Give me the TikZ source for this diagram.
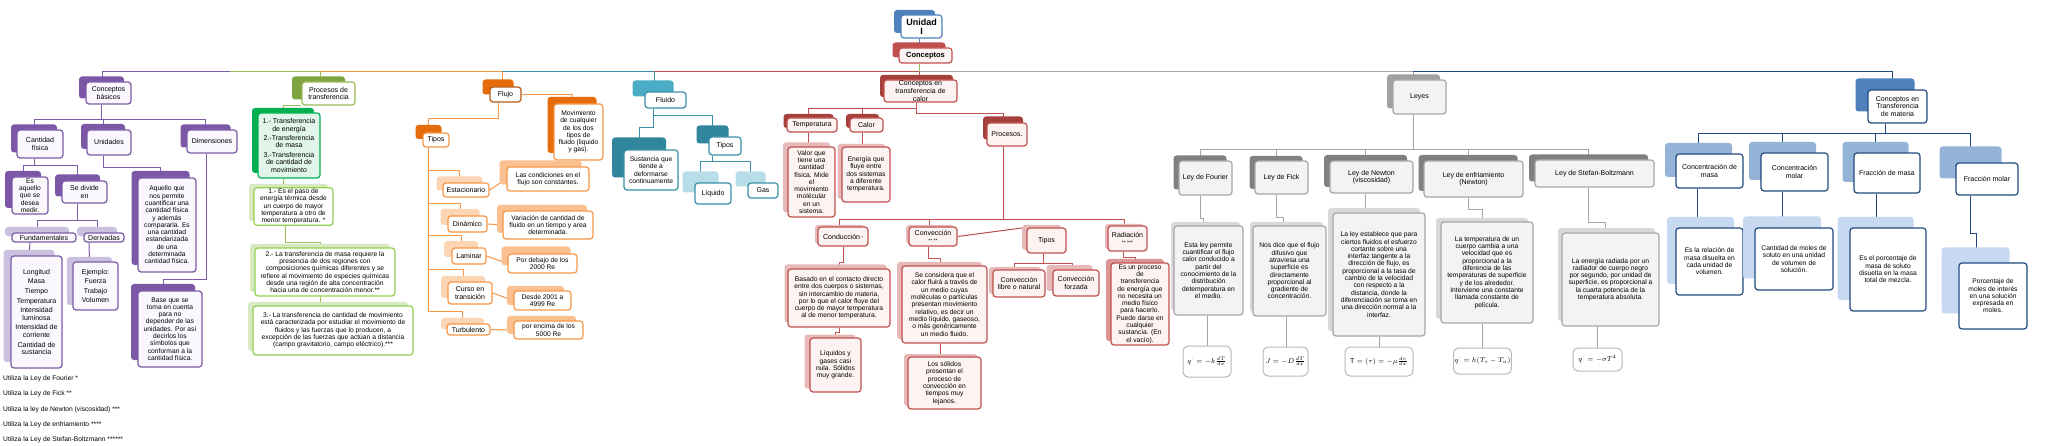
\documentclass[tikz,border=0pt]{standalone}
\usepackage{fontspec}
\setmainfont{Liberation Sans}
\usetikzlibrary{shadows, backgrounds, calc}

\definecolor{uB}{HTML}{4F81BD}
\definecolor{rB}{HTML}{C0504D}
\definecolor{rM}{HTML}{C0504D}
\definecolor{rD}{HTML}{A5403D}
\definecolor{rP}{HTML}{E6B9B8}
\definecolor{rQ}{HTML}{D99694}
\definecolor{rF}{HTML}{FDF3F3}
\definecolor{pB}{HTML}{7D5BA6}
\definecolor{pD}{HTML}{7B58A5}
\definecolor{pL}{HTML}{CBC0DD}
\definecolor{pF}{HTML}{FAF8FC}
\definecolor{gB}{HTML}{9BBB59}
\definecolor{gD}{HTML}{7FA33F}
\definecolor{gG}{HTML}{00B050}
\definecolor{gM}{HTML}{E2F5EA}
\definecolor{gL}{HTML}{92D050}
\definecolor{gK}{HTML}{D7E8C3}
\definecolor{oB}{HTML}{F79646}
\definecolor{oK}{HTML}{B35A17}
\definecolor{oD}{HTML}{E46C0A}
\definecolor{oL}{HTML}{FCD5B5}
\definecolor{oP}{HTML}{FAC090}
\definecolor{cB}{HTML}{3A8FA8}
\definecolor{cM}{HTML}{4BACC6}
\definecolor{cD}{HTML}{31859C}
\definecolor{cL}{HTML}{B7DEE8}
\definecolor{kB}{HTML}{A6A6A6}
\definecolor{kM}{HTML}{A0A0A0}
\definecolor{kD}{HTML}{808080}
\definecolor{kL}{HTML}{D9D9D9}
\definecolor{kF}{HTML}{F3F3F3}
\definecolor{nB}{HTML}{1F497D}
\definecolor{nM}{HTML}{4F81BD}
\definecolor{nL}{HTML}{95B3D7}
\definecolor{nP}{HTML}{C6D9F1}

\newcommand{\headfont}{\fontsize{7}{7.6}\selectfont}
\newcommand{\descfont}{\fontsize{6.7}{7.3}\selectfont}

\begin{document}
\begin{tikzpicture}[
    x=1pt, y=-1pt,
    box/.style={draw, rounded corners=3pt, line width=1.2pt, align=center, inner sep=1pt, font=\headfont},
    cb/.style n args={4}{box, draw=#1, general shadow={fill=#2, shadow xshift=-#3pt, shadow yshift=#4pt}},
    wh/.style 2 args={minimum width=#1pt, minimum height=#2pt},
    dsc/.style={font=\descfont},
    pur/.style 2 args={cb={pB}{pD}{#1}{#2}, fill=pF},
    purl/.style 2 args={cb={pB}{pL}{#1}{#2}, fill=pF},
    grn/.style 2 args={cb={gL}{gK}{#1}{#2}, fill=white, dsc},
    org/.style 2 args={cb={oB}{oL}{#1}{#2}, fill=white},
    orgd/.style 2 args={cb={oB}{oP}{#1}{#2}, fill=white, dsc},
    red/.style 2 args={cb={rB}{rD}{#1}{#2}, fill=rF},
    redp/.style 2 args={cb={rB}{rP}{#1}{#2}, fill=rF},
    gry/.style 2 args={cb={kB}{kD}{#1}{#2}, fill=kF},
    gryd/.style 2 args={cb={kB}{kL}{#1}{#2}, fill=kF, dsc},
    nav/.style 2 args={cb={nB}{nL}{#1}{#2}, fill=white},
    navd/.style 2 args={cb={nB}{nP}{#1}{#2}, fill=white, dsc},
    formbox/.style={box, draw=kB!80, fill=white, rounded corners=5pt, line width=1pt, font=\fontsize{7}{8}\selectfont},
    foot/.style={anchor=west, inner sep=0pt, font=\descfont},
    con/.style={line width=1pt},
    pcon/.style={con, draw=pB}, gcon/.style={con, draw=gB}, ocon/.style={con, draw=oB},
    ccon/.style={con, draw=cB}, rcon/.style={con, draw=rB}, kcon/.style={con, draw=kB},
    ncon/.style={con, draw=nB}, bcon/.style={con, draw=uB},
]
\useasboundingbox (0,0) rectangle (2048,446);

% top
\node[cb={uB}{uB}{7}{5}, fill=white, wh={41}{23}, font=\bfseries\fontsize{9}{9.5}\selectfont] (unidad) at (921.5,26.5) {Unidad\\I};
\node[cb={rB}{rM}{6.5}{5.5}, fill=rF, wh={53}{15}, font=\bfseries\fontsize{7.5}{8}\selectfont] (conceptos) at (925.5,55.5) {Conceptos};

% first level
\node[pur={7}{5.5}, wh={45}{22}] (basicos) at (108.5,93) {Conceptos\\básicos};
\node[cb={gB}{gD}{10}{5.5}, fill=white, wh={53}{23}] (procesos) at (328.5,93.5) {Procesos de\\transferencia};
\node[cb={oK}{oD}{7.5}{7.5}, fill=white, wh={31}{15}] (flujo) at (505.5,94.5) {Flujo};
\node[cb={cB}{cM}{12.5}{11.5}, fill=white, wh={41}{16}] (fluido) at (665.5,100) {Fluido};
\node[red={4}{5}, wh={73}{22}] (calorc) at (920.5,91) {Conceptos en\\transferencia de\\calor};
\node[cb={kB}{kM}{6}{5.5}, fill=kF, wh={53}{34}] (leyes) at (1419.5,97) {Leyes};
\node[cb={nB}{nM}{12.5}{11.5}, fill=white, wh={59}{33}] (materia) at (1897.5,106.5) {Conceptos en\\Transferencia\\de materia};

% conceptos basicos
\node[pur={6}{5.5}, wh={46}{28}] (cantidad) at (40,144) {Cantidad\\física};
\node[pur={6}{6}, wh={44}{25}] (unidades) at (109,142.5) {Unidades};
\node[pur={6.5}{5.5}, wh={50}{23}] (dimensiones) at (212,141.5) {Dimensiones};
\node[pur={7}{6}, wh={36}{37}, dsc] (esaquello) at (30,195.5) {Es\\aquello\\que se\\desea\\medir.};
\node[pur={7}{6.5}, wh={45}{22}] (sedivide) at (84.5,192) {Se divide\\en};
\node[purl={7}{6}, wh={64}{9}] (fundamentales) at (44,237.5) {Fundamentales};
\node[purl={7}{6}, wh={40}{9}] (derivadas) at (104,237.5) {Derivadas};
\node[purl={7.5}{6}, wh={51}{112}] (longitud) at (36.5,312) {Longitud\\[2pt]Masa\\[2pt]Tiempo\\[2pt]Temperatura\\[2pt]Intensidad\\luminosa\\[2pt]Intensidad de\\corriente\\[2pt]Cantidad de\\sustancia};
\node[purl={6}{5}, wh={45}{48}] (ejemplo) at (95.5,286) {Ejemplo:\\[2pt]Fuerza\\[2pt]Trabajo\\[2pt]Volumen};
\node[pur={6.5}{7}, wh={58}{94}, dsc] (aquello) at (167,225) {Aquello que\\nos permite\\cuantificar una\\cantidad física\\y además\\compararla. Es\\una cantidad\\estandarizada\\de una\\determinada\\cantidad física.};
\node[pur={7}{7}, wh={64}{76}, dsc] (base) at (170,329) {Base que se\\toma en cuenta\\para no\\depender de las\\unidades. Por así\\decirlos los\\símbolos que\\conforman a la\\cantidad física.};

% notes
\node[foot] (nota1) at (3,379) {Utiliza la Ley de Fourier *};
\node[foot] (nota2) at (3,394) {Utiliza la Ley de Fick **};
\node[foot] (nota3) at (3,410) {Utiliza la ley de Newton (viscosidad) ***};
\node[foot] (nota4) at (3,425) {Utiliza la Ley de enfriamiento ****};
\node[foot] (nota5) at (3,440) {Utiliza la Ley de Stefan-Boltzmann ******};

% procesos de transferencia
\node[cb={gG}{gG}{6}{5}, fill=gM, wh={62}{65}] (trans) at (289,145.5) {1.- Transferencia\\de energía\\[1.5pt]2.-Transferencia\\de masa\\[1.5pt]3.-Transferencia\\de cantidad de\\movimiento};
\node[grn={5}{4}, wh={79}{37}] (g1) at (293.5,206.5) {1.- Es el paso de\\energía térmica desde\\un cuerpo de mayor\\temperatura a otro de\\menor temperatura. *};
\node[grn={5}{4}, wh={140}{48}] (g2) at (325,272) {2.- La transferencia de masa requiere la\\presencia de dos regiones con\\composiciones químicas diferentes y se\\refiere al movimiento de especies químicas\\desde una región de alta concentración\\hacia una de concentración menor.**};
\node[grn={5}{4}, wh={160}{49}] (g3) at (333,330.5) {3.- La transferencia de cantidad de movimiento\\está caracterizada por estudiar el movimiento de\\fluidos y las fuerzas que lo producen, a\\excepción de las fuerzas que actúan a distancia\\(campo gravitatorio, campo eléctrico).***};

% flujo
\node[cb={oB}{oD}{6.5}{7}, fill=white, wh={49}{56}, dsc] (movim) at (578.5,132) {Movimiento\\de cualquier\\de los dos\\tipos de\\fluido (liquido\\y gas).};
\node[cb={oB}{oD}{7.5}{8}, fill=white, wh={26}{14}] (tiposO) at (436,140) {Tipos};
\node[org={6.5}{6.5}, wh={46}{14}] (estac) at (466,190) {Estacionario};
\node[org={7.5}{7}, wh={39}{16}] (dinam) at (467.5,224) {Dinámico};
\node[org={8}{7}, wh={34}{16}] (lamin) at (469,256) {Laminar};
\node[org={7}{6}, wh={44}{22}] (curso) at (470,293) {Curso en\\transición};
\node[org={6}{6}, wh={43}{11}] (turbu) at (468.5,329.5) {Turbulento};
\node[orgd={7.5}{6.5}, wh={82}{24}] (destac) at (548,179) {Las condiciones en el\\flujo son constantes.};
\node[orgd={6}{6}, wh={90}{28}] (ddinam) at (548,225) {Variación de cantidad de\\fluido en un tiempo y area\\determinada.};
\node[orgd={6.5}{7.5}, wh={69}{19}] (dlamin) at (542.5,263.5) {Por debajo de los\\2000 Re};
\node[orgd={7}{5}, wh={57}{19}] (dcurso) at (542.5,300.5) {Desde 2001 a\\4999 Re};
\node[orgd={7}{5}, wh={69}{18}] (dturbu) at (548.5,330) {por encima de los\\5000 Re};

% fluido
\node[cb={cB}{cD}{12}{12.5}, fill=white, wh={54}{40}, dsc] (sustancia) at (651,170) {Sustancia que\\tiende a\\deformarse\\continuamente};
\node[cb={cB}{cD}{12.5}{11.5}, fill=white, wh={32}{18}] (tiposC) at (725,146) {Tipos};
\node[cb={cB}{cL}{12.5}{11.5}, fill=white, wh={36}{21}] (liquido) at (713,193.5) {Líquido};
\node[cb={cB}{cL}{12.5}{11.5}, fill=white, wh={30}{15}] (gas) at (763,190.5) {Gas};

% conceptos en transferencia de calor
\node[red={3.5}{4}, wh={50}{14}] (temp) at (812,125) {Temperatura};
\node[red={4}{4}, wh={33}{14}] (calor) at (866.5,125) {Calor};
\node[red={4}{6.5}, wh={40}{23}] (procs) at (1007,134.5) {Procesos.};
\node[redp={5}{4.5}, wh={47}{70}, dsc] (valor) at (811.5,182) {Valor que\\tiene una\\cantidad\\física. Mide\\el\\movimiento\\molécular\\en un\\sistema.};
\node[redp={4.5}{3}, wh={48}{55}, dsc] (energia) at (866,174.5) {Energía que\\fluye entre\\dos sistemas\\a diferente\\temperatura.};
\node[redp={3}{2}, wh={50}{19}] (conduc) at (843,236.5) {Conducción\,{\fontsize{4}{4}\selectfont *}};
\node[redp={3}{2}, wh={48}{19}] (convec) at (933,236.5) {Convección\\{\fontsize{5}{5}\selectfont ** **}};
\node[redp={5}{3}, wh={39}{25}] (tiposR) at (1046.5,240.5) {Tipos};
\node[redp={3}{2}, wh={39}{25}] (radia) at (1127.5,238.5) {Radiación\\{\fontsize{5}{5}\selectfont ** ***}};
\node[redp={3.5}{4.5}, wh={102}{58}, dsc] (dconduc) at (839,298) {Basado en el contacto directo\\entre dos cuerpos o sistemas,\\sin intercambio de materia,\\por lo que el calor fluye del\\cuerpo de mayor temperatura\\al de menor temperatura.};
\node[redp={5.5}{3.5}, wh={51}{54}, dsc] (liquidos) at (835.5,365) {Líquidos  y\\gases casi\\nula. Sólidos\\muy grande.};
\node[redp={5}{4}, wh={85}{77}, dsc] (dconvec) at (944.5,304.5) {Se considera que el\\calor fluirá a través de\\un medio cuyas\\moléculas o partículas\\presentan movimiento\\relativo, es decir un\\medio líquido,  gaseoso,\\o más  genéricamente\\un medio fluido.};
\node[redp={4}{3}, wh={73}{52}, dsc] (solidos) at (944.5,383) {Los sólidos\\presentan el\\proceso de\\convección en\\tiempos muy\\lejanos.};
\node[redp={4}{3}, wh={52}{27}] (libre) at (1019,283.5) {Convección\\libre o natural};
\node[redp={6.5}{5}, wh={46}{26}] (forzada) at (1076,283) {Convección\\forzada};
\node[cb={rB}{rQ}{5}{4}, fill=rF, wh={58}{82}, dsc] (dradia) at (1140,304) {Es un proceso\\de\\transferencia\\de energía que\\no necesita un\\medio físico\\para hacerlo.\\Puede darse en\\cualquier\\sustancia. (En\\el vacío).};

% leyes
\node[gry={5.5}{5.5}, wh={53}{34}] (fourier) at (1205.5,178) {Ley de Fourier};
\node[gry={5.5}{5}, wh={53}{33}] (fick) at (1281.5,177.5) {Ley de Fick};
\node[gry={6}{6}, wh={83}{32}] (newton) at (1371.5,177) {Ley de Newton\\(viscosidad)};
\node[gry={5.5}{6}, wh={99}{36}] (enfri) at (1473.5,179) {Ley de enfriamiento\\(Newton)};
\node[gry={6}{5.5}, wh={119}{27}] (stefan) at (1594.5,173.5) {Ley de Stefan-Boltzmann};
\node[gryd={3}{4}, wh={69}{89}] (dfourier) at (1208.5,270.5) {Esta ley permite\\cuantificar el flujo\\calor conducido a\\partir del\\conocimiento de la\\distribución\\detemperatura en\\el medio.};
\node[gryd={3}{4}, wh={73}{90}] (dfick) at (1289.5,271) {Nos dice que el flujo\\difusivo que\\atraviesa una\\superficie es\\directamente\\proporcional al\\gradiente de\\concentración.};
\node[gryd={5}{5}, wh={92}{123}] (dnewton) at (1379,274.5) {La ley establece que para\\ciertos fluidos el esfuerzo\\cortante sobre una\\interfaz tangente a la\\dirección de flujo, es\\proporcional a la tasa de\\cambio de la velocidad\\con respecto a la\\distancia, donde la\\diferenciación se toma en\\una dirección normal a la\\interfaz.};
\node[gryd={5}{4}, wh={92}{101}] (denfri) at (1487,272.5) {La temperatura de un\\cuerpo cambia a una\\velocidad que es\\proporcional a la\\diferencia de las\\temperaturas de superficie\\y de los alrededor.\\Interviene una constante\\llamada constante de\\película.};
\node[gryd={4}{5}, wh={97}{93}] (dstefan) at (1610.5,279.5) {La energía radiada por un\\radiador de cuerpo negro\\por segundo, por unidad de\\superficie, es proporcional a\\la cuarta potencia de la\\temperatura absoluta.};
\node[formbox, wh={48}{31}] (ffourier) at (1207,361.5) {$q^{\cdot} = -k\frac{dT}{dx}$};
\node[formbox, wh={45}{29}] (ffick) at (1285.5,361.5) {$J = -D\frac{dT}{dx}$};
\node[formbox, wh={68}{29}] (fnewton) at (1379,361.5) {$\mathrm{T} = (\tau) = -\mu\frac{dv}{dx}$};
\node[formbox, wh={53}{26}] (fenfri) at (1482.5,361) {$q^{\cdot} = h(T_s - T_a)$};
\node[formbox, wh={49}{23}] (fstefan) at (1597.5,359.5) {$q^{\cdot} = -\sigma T^4$};

% transferencia de materia
\node[nav={11}{11}, wh={67}{34}] (cmasa) at (1709.5,171) {Concentración de\\masa};
\node[nav={12}{11}, wh={67}{38}] (cmolar) at (1794.5,172) {Concentración\\molar};
\node[nav={11.5}{11}, wh={66}{40}] (fmasa) at (1887,173) {Fracción de masa};
\node[nav={16.5}{16.5}, wh={62}{32}] (fmolar) at (1987,179) {Fracción molar};
\node[navd={9}{11}, wh={67}{67}] (dcmasa) at (1709.5,261.5) {Es la relación de\\masa disuelta  en\\cada unidad de\\volumen.};
\node[navd={12}{11.5}, wh={78}{62}] (dcmolar) at (1794,259) {Cantidad de moles de\\soluto en una unidad\\de volumen de\\solución.};
\node[navd={12.5}{11}, wh={76}{83}] (dfmasa) at (1888,269.5) {Es el porcentaje de\\masa de soluto\\disuelta en la masa\\total de mezcla.};
\node[navd={17.5}{15.5}, wh={68}{66}] (dfmolar) at (1993,296) {Porcentaje de\\moles de interés\\en una solución\\expresada en\\moles.};

\begin{scope}[on background layer]
\fill[white] (0,0) rectangle (2048,446);
% main bar
\coordinate (b0) at (919,72);
\coordinate (b1) at (102,72);
\coordinate (b1g) at (230,72);
\coordinate (b2) at (320,72);
\coordinate (b3) at (502,72);
\coordinate (b4) at (654,72);
\coordinate (b5) at (1413,72);
\coordinate (b6) at (1892,72);
\draw[bcon] ([xshift=-2pt]unidad.south) -- ([xshift=-2pt]unidad.south |- conceptos.north);
\draw[gcon] ([xshift=-6.5pt]conceptos.south) -- (b0);
\draw[pcon] (b1 |- basicos.north) -- (b1) -- (b1g);
\draw[gcon] (b1g) -- (b2) -- (b2 |- procesos.north);
\draw[ocon] (b2) -- (b3) -- (b3 |- flujo.north);
\draw[ccon] (b3) -- (b4) -- (b4 |- fluido.north);
\draw[rcon] (b4) -- (b0) -- (b0 |- calorc.north);
\draw[kcon] (b0) -- (b5) -- (b5 |- leyes.north);
\draw[ncon] (b5) -- (b6) -- (b6 |- materia.north);

% conceptos basicos
\foreach \n/\s in {cantidad/6pt, unidades/6pt, dimensiones/6.5pt}
  \draw[pcon] ([xshift=-7pt]basicos.south) -- ++(0,15) -| ([xshift=-\s]\n.north);
\foreach \n in {esaquello, sedivide}
  \draw[pcon] ([xshift=-6pt]cantidad.south) -- ++(0,7) -| ([xshift=-7pt]\n.north);
\foreach \n in {fundamentales, derivadas}
  \draw[pcon] ([xshift=-7pt]sedivide.south) -- ++(0,17) -| ([xshift=-7pt]\n.north);
\draw[pcon] ([xshift=-14pt]fundamentales.south) -- ([xshift=-7.5pt]longitud.north);
\draw[pcon] ([xshift=-15pt]derivadas.south) -- ([xshift=-6pt]ejemplo.north);
\draw[pcon] ([xshift=-6pt]unidades.south) -- ++(0,12) -| ([xshift=-6.5pt]aquello.north);
\draw[pcon] ([xshift=-6pt]dimensiones.south) -- ++(0,126) -| ([xshift=-7pt]base.north);

% procesos de transferencia
\draw[gcon] (procesos.south west) -| ([xshift=-6pt]trans.north);
\draw[gcon] ([xshift=-6pt]trans.south) -- ([xshift=-6pt]trans.south |- g1.north);
\draw[gcon] ([xshift=-8pt]g1.south) -- ++(0,17) -| ([xshift=-5pt]g2.north);
\draw[gcon] ([xshift=-5pt]g2.south) -- ([xshift=-5pt]g2.south |- g3.north);

% flujo
\draw[ocon] (flujo.east) -| ([xshift=-6.5pt]movim.north);
\draw[ocon] ([xshift=-7.5pt]flujo.south) -- ++(0,16) -| ([xshift=-7.5pt]tiposO.north);
\foreach \n/\d/\s in {estac/23/6.5pt, dinam/56/7.5pt, lamin/88/8pt, curso/122/7pt, turbu/164/6pt}
  \draw[ocon] ([xshift=-7.5pt]tiposO.south) -- ++(0,\d) -| ([xshift=-\s]\n.north);
\foreach \a/\b in {estac/destac, dinam/ddinam, lamin/dlamin, curso/dcurso, turbu/dturbu}
  \draw[ocon] (\a.east) -- (\b.west);

% fluido
\draw[ccon] ([xshift=-12.5pt]fluido.south) -- ++(0,19) -| ([xshift=-12pt]sustancia.north);
\draw[ccon] ([xshift=-12.5pt]fluido.south) -- ++(0,7) -| ([xshift=-12.5pt]tiposC.north);
\foreach \n in {liquido, gas}
  \draw[ccon] ([xshift=-12.5pt]tiposC.south) -- ++(0,6) -| ([xshift=-12.5pt]\n.north);

% calor
\foreach \n/\d in {temp/6, calor/6, procs/11}
  \draw[rcon] ([xshift=-4pt]calorc.south) -- ++(0,\d) -| ([xshift=-4pt]\n.north);
\draw[rcon] ([xshift=-4pt]temp.south) -- ([xshift=-4pt]temp.south |- valor.north);
\draw[rcon] ([xshift=-4pt]calor.south) -- ([xshift=-4pt]calor.south |- energia.north);
\foreach \n/\s in {conduc/4pt, convec/4pt, radia/3pt}
  \draw[rcon] ([xshift=-4pt]procs.south) -- ++(0,73) -| ([xshift=-\s]\n.north);
\draw[rcon] (convec.east) -- (tiposR.north west);
\draw[rcon] ([xshift=-3pt]tiposR.south) -- ++(0,10) -| ([xshift=-5pt]libre.north);
\draw[rcon] ([xshift=-3pt]tiposR.south) -- ++(0,10) -| ([xshift=-4pt]forzada.north);
\draw[rcon] (conduc.south) -- ++(0,16) -| (dconduc.north);
\draw[rcon] (dconduc.south) -- ++(0,5) -| (liquidos.north);
\draw[rcon] ([xshift=-5pt]convec.south) -- ++(0,12) -| ([xshift=-4.5pt]dconvec.north);
\draw[rcon] ([xshift=-4.5pt]dconvec.south) -- ([xshift=-4.5pt]dconvec.south |- solidos.north);
\draw[rcon] ([xshift=-4.5pt]radia.south) -- ++(0,6) -| ([xshift=-5pt]dradia.north);

% leyes
\foreach \n/\s in {fourier/5.5pt, fick/5.5pt, newton/6pt, enfri/5.5pt, stefan/6pt}
  \draw[kcon] ([xshift=-6pt]leyes.south) -- ++(0,35) -| ([xshift=-\s]\n.north);
\draw[kcon] ([xshift=-5.5pt]fourier.south) -- ++(0,23) -| ([xshift=-5pt]dfourier.north);
\draw[kcon] ([xshift=-1.5pt]dfourier.south) -- ([xshift=-1.5pt]dfourier.south |- ffourier.north);
\draw[kcon] ([xshift=-5.5pt]fick.south) -- ++(0,23) -| ([xshift=-6.5pt]dfick.north);
\draw[kcon] ([xshift=-3.5pt]dfick.south) -- ([xshift=-3.5pt]dfick.south |- ffick.north);
\draw[kcon] ([xshift=-6pt]newton.south) -- ++(0,15) -| ([xshift=-5pt]dnewton.north);
\draw[kcon] (dnewton.south) -- (fnewton.north);
\draw[kcon] ([xshift=-5.5pt]enfri.south) -- ++(0,12) -| ([xshift=-5pt]denfri.north);
\draw[kcon] ([xshift=-5pt]denfri.south) -- ([xshift=-5pt]denfri.south |- fenfri.north);
\draw[kcon] ([xshift=-6pt]stefan.south) -- ++(0,35) -| ([xshift=-5pt]dstefan.north);
\draw[kcon] ([xshift=-13pt]dstefan.south) -- ([xshift=-13pt]dstefan.south |- fstefan.north);

% materia
\foreach \n/\s in {cmasa/11pt, cmolar/12pt, fmasa/11.5pt, fmolar/16.5pt}
  \draw[ncon] ([xshift=-12.5pt]materia.south) -- ++(0,10) -| ([xshift=-\s]\n.north);
\draw[ncon] ([xshift=-12pt]cmasa.south) -- ([xshift=-12pt]cmasa.south |- dcmasa.north);
\draw[ncon] ([xshift=-12.5pt]cmolar.south) -- ([xshift=-12.5pt]cmolar.south |- dcmolar.north);
\draw[ncon] ([xshift=-11pt]fmasa.south) -- ([xshift=-11pt]fmasa.south |- dfmasa.north);
\draw[ncon] ([xshift=-17pt]fmolar.south) -- ++(0,38) -| ([xshift=-17pt]dfmolar.north);
\end{scope}
\end{tikzpicture}
\end{document}
